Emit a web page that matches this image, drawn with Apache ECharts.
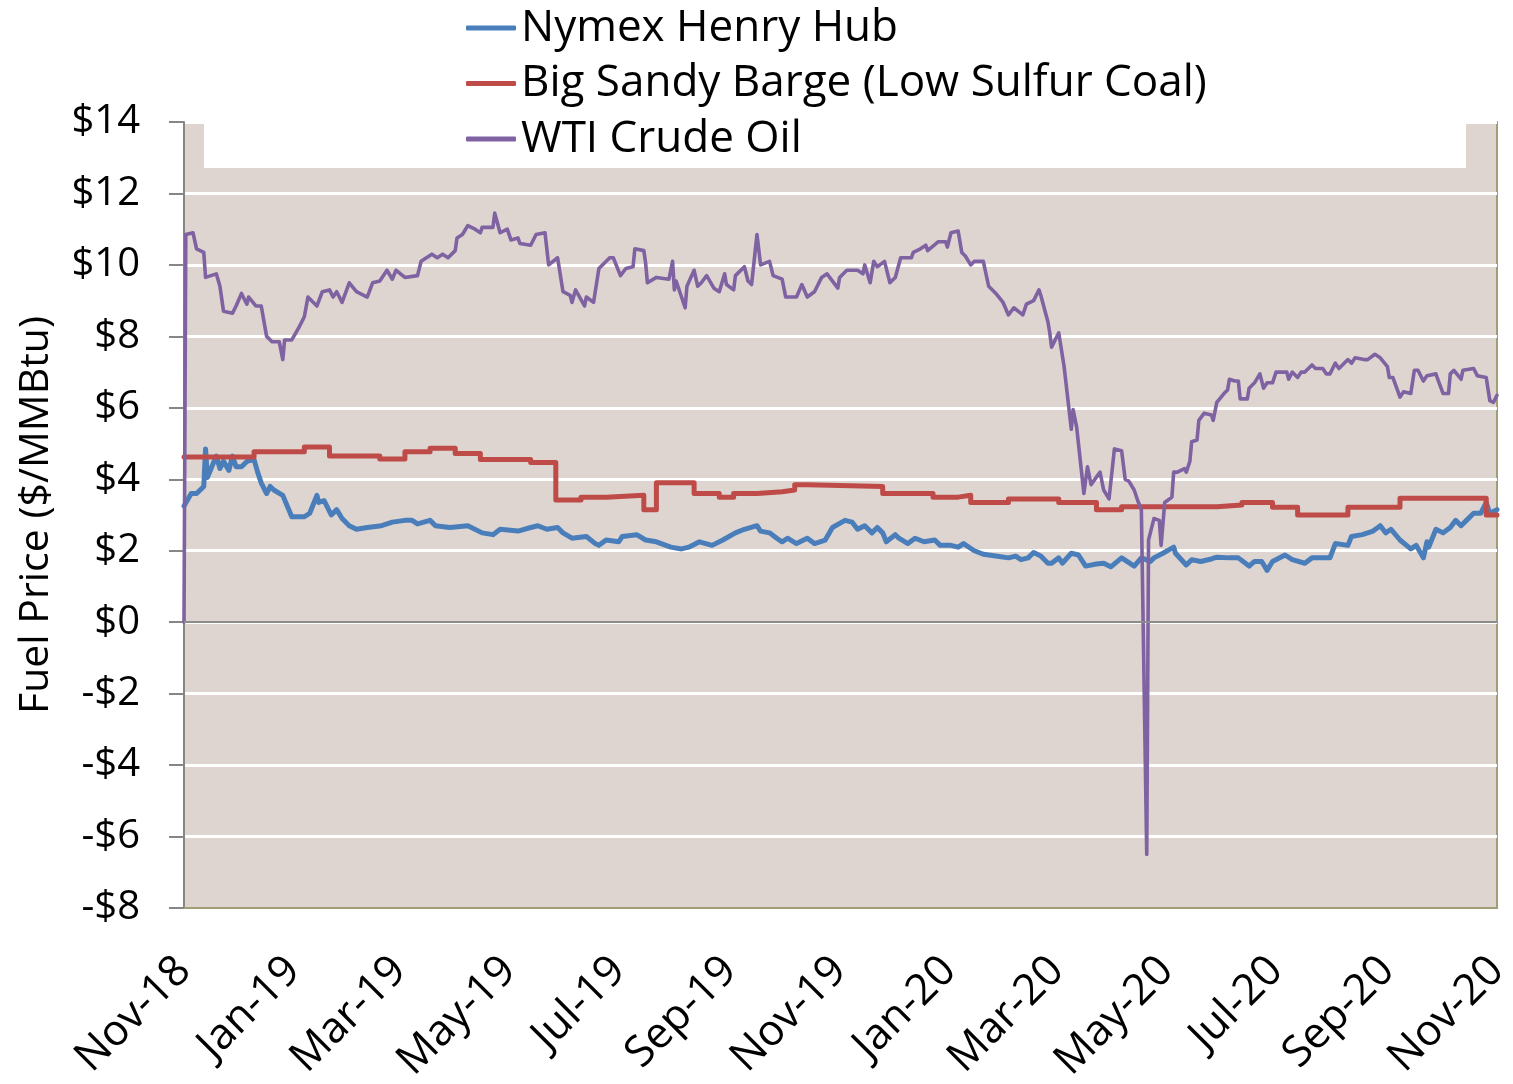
<!DOCTYPE html>
<html>
<head>
<meta charset="utf-8">
<script src="https://cdn.jsdelivr.net/npm/echarts@6/dist/echarts.min.js"></script>
<style>
  html, body { margin: 0; padding: 0; background: #fff; }
  #chart { width: 1513px; height: 1084px; }
</style>
</head>
<body>
<div id="chart"></div>
<script>
(function(){

    var seriesNames = ['Nymex Henry Hub', 'Big Sandy Barge (Low Sulfur Coal)', 'WTI Crude Oil'];
    var colors = ['#4A7EBB', '#BE4B48', '#7F62A1'];
    var monthNames = ['Jan','Feb','Mar','Apr','May','Jun','Jul','Aug','Sep','Oct','Nov','Dec'];
    var tickMonths = ['2018-11','2019-01','2019-03','2019-05','2019-07','2019-09','2019-11',
        '2020-01','2020-03','2020-05','2020-07','2020-09','2020-11'];

    // Nymex Henry Hub ($/MMBtu)
    var hhDates = ['2018-11-01','2018-11-02','2018-11-05','2018-11-08','2018-11-12','2018-11-13','2018-11-14','2018-11-19',
        '2018-11-21','2018-11-23','2018-11-26','2018-11-28','2018-11-30','2018-12-03','2018-12-06','2018-12-10',
        '2018-12-12','2018-12-14','2018-12-17','2018-12-19','2018-12-21','2018-12-26','2018-12-31','2019-01-07',
        '2019-01-10','2019-01-14','2019-01-15','2019-01-18','2019-01-22','2019-01-25','2019-01-28','2019-02-01',
        '2019-02-05','2019-02-11','2019-02-19','2019-02-22','2019-02-25','2019-03-04','2019-03-08','2019-03-11',
        '2019-03-18','2019-03-21','2019-03-29','2019-04-08','2019-04-16','2019-04-22','2019-04-26','2019-05-06',
        '2019-05-13','2019-05-17','2019-05-22','2019-05-28','2019-05-31','2019-06-05','2019-06-13','2019-06-18',
        '2019-06-20','2019-06-24','2019-07-01','2019-07-03','2019-07-11','2019-07-16','2019-07-22','2019-07-30',
        '2019-08-05','2019-08-09','2019-08-15','2019-08-22','2019-08-28','2019-09-04','2019-09-09','2019-09-16',
        '2019-09-18','2019-09-23','2019-09-27','2019-09-30','2019-10-03','2019-10-08','2019-10-14','2019-10-18',
        '2019-10-24','2019-10-28','2019-11-04','2019-11-08','2019-11-11','2019-11-15','2019-11-19','2019-11-22',
        '2019-11-25','2019-11-27','2019-12-02','2019-12-04','2019-12-09','2019-12-13','2019-12-18','2019-12-24',
        '2019-12-27','2020-01-02','2020-01-06','2020-01-09','2020-01-15','2020-01-20','2020-01-27','2020-02-03',
        '2020-02-07','2020-02-10','2020-02-14','2020-02-17','2020-02-21','2020-02-25','2020-02-27','2020-03-02',
        '2020-03-04','2020-03-09','2020-03-13','2020-03-17','2020-03-23','2020-03-27','2020-03-31','2020-04-06',
        '2020-04-09','2020-04-13','2020-04-17','2020-04-22','2020-04-24','2020-04-29','2020-05-05','2020-05-06',
        '2020-05-12','2020-05-15','2020-05-20','2020-05-26','2020-05-29','2020-06-05','2020-06-10','2020-06-16',
        '2020-06-19','2020-06-23','2020-06-26','2020-06-29','2020-07-06','2020-07-10','2020-07-17','2020-07-21',
        '2020-07-31','2020-08-03','2020-08-10','2020-08-12','2020-08-18','2020-08-24','2020-08-28','2020-08-31',
        '2020-09-03','2020-09-08','2020-09-14','2020-09-17','2020-09-21','2020-09-23','2020-09-24','2020-09-28',
        '2020-10-02','2020-10-06','2020-10-09','2020-10-12','2020-10-15','2020-10-19','2020-10-23','2020-10-26',
        '2020-10-28','2020-11-01'];
    var hhValues = [3.25,3.3,3.6,3.6,3.8,4.85,4.05,4.65,
        4.3,4.5,4.25,4.65,4.35,4.35,4.5,4.55,
        4.2,3.9,3.6,3.8,3.7,3.55,2.95,2.95,
        3.05,3.55,3.35,3.4,3.0,3.15,2.9,2.7,
        2.6,2.65,2.7,2.75,2.8,2.85,2.85,2.75,
        2.85,2.7,2.65,2.7,2.5,2.45,2.6,2.55,
        2.65,2.7,2.6,2.65,2.5,2.35,2.4,2.2,
        2.15,2.3,2.25,2.4,2.45,2.3,2.25,2.1,
        2.05,2.1,2.25,2.15,2.3,2.5,2.6,2.7,
        2.55,2.5,2.35,2.25,2.35,2.2,2.35,2.2,
        2.3,2.65,2.85,2.8,2.6,2.7,2.5,2.65,
        2.5,2.25,2.45,2.35,2.2,2.35,2.25,2.3,
        2.15,2.15,2.1,2.2,2.0,1.9,1.85,1.8,
        1.85,1.75,1.8,1.95,1.85,1.65,1.65,1.8,
        1.65,1.93,1.88,1.57,1.63,1.65,1.55,1.8,
        1.7,1.57,1.8,1.7,1.8,1.93,2.1,1.93,
        1.6,1.75,1.7,1.77,1.82,1.8,1.8,1.57,
        1.7,1.7,1.45,1.7,1.88,1.75,1.65,1.8,
        1.8,2.2,2.15,2.4,2.45,2.55,2.7,2.5,
        2.6,2.3,2.05,2.15,1.8,2.25,2.1,2.6,
        2.5,2.65,2.85,2.7,2.85,3.05,3.05,3.35,
        3.05,3.15];

    // Big Sandy Barge, low sulfur coal ($/MMBtu), weekly steps
    var coalDates = ['2018-11-01','2018-12-10','2019-01-07','2019-01-21','2019-02-18','2019-03-04','2019-03-18','2019-04-01',
        '2019-04-15','2019-05-13','2019-05-27','2019-06-10','2019-06-24','2019-07-15','2019-07-22','2019-08-12',
        '2019-08-26','2019-09-03','2019-09-16','2019-09-30','2019-10-07','2019-10-14','2019-11-25','2019-12-23',
        '2020-01-06','2020-01-13','2020-02-03','2020-03-02','2020-03-23','2020-04-06','2020-05-29','2020-06-12',
        '2020-06-29','2020-07-13','2020-08-10','2020-09-08','2020-10-26','2020-11-01'];
    var coalValues = [4.62,4.77,4.9,4.65,4.57,4.77,4.87,4.72,
        4.55,4.47,3.42,3.5,3.55,3.15,3.9,3.6,
        3.5,3.6,3.65,3.7,3.85,3.8,3.6,3.5,
        3.55,3.35,3.45,3.35,3.15,3.23,3.28,3.35,
        3.22,3.0,3.22,3.47,3.0,3.0];

    // WTI crude oil ($/MMBtu)
    var wtiDates = ['2018-11-01','2018-11-02','2018-11-06','2018-11-08','2018-11-12','2018-11-13','2018-11-19','2018-11-21',
        '2018-11-23','2018-11-28','2018-11-30','2018-12-03','2018-12-06','2018-12-07','2018-12-11','2018-12-14',
        '2018-12-17','2018-12-20','2018-12-24','2018-12-26','2018-12-27','2018-12-31','2019-01-04','2019-01-07',
        '2019-01-09','2019-01-14','2019-01-17','2019-01-21','2019-01-23','2019-01-25','2019-01-28','2019-02-01',
        '2019-02-05','2019-02-11','2019-02-14','2019-02-18','2019-02-22','2019-02-25','2019-02-27','2019-03-04',
        '2019-03-11','2019-03-13','2019-03-19','2019-03-22','2019-03-25','2019-03-28','2019-04-01','2019-04-02',
        '2019-04-05','2019-04-08','2019-04-12','2019-04-15','2019-04-16','2019-04-22','2019-04-23','2019-04-26',
        '2019-04-30','2019-05-02','2019-05-06','2019-05-07','2019-05-13','2019-05-16','2019-05-21','2019-05-23',
        '2019-05-28','2019-05-31','2019-06-04','2019-06-05','2019-06-07','2019-06-12','2019-06-13','2019-06-17',
        '2019-06-20','2019-06-26','2019-06-28','2019-07-02','2019-07-05','2019-07-09','2019-07-10','2019-07-15',
        '2019-07-16','2019-07-17','2019-07-22','2019-07-29','2019-07-31','2019-08-01','2019-08-02','2019-08-07',
        '2019-08-08','2019-08-12','2019-08-14','2019-08-16','2019-08-19','2019-08-23','2019-08-26','2019-08-29',
        '2019-08-30','2019-09-03','2019-09-04','2019-09-09','2019-09-11','2019-09-13','2019-09-16','2019-09-18',
        '2019-09-23','2019-09-25','2019-09-30','2019-10-02','2019-10-08','2019-10-11','2019-10-14','2019-10-18',
        '2019-10-22','2019-10-25','2019-10-31','2019-11-01','2019-11-05','2019-11-11','2019-11-14','2019-11-15',
        '2019-11-18','2019-11-20','2019-11-22','2019-11-26','2019-11-29','2019-12-02','2019-12-05','2019-12-11',
        '2019-12-12','2019-12-16','2019-12-19','2019-12-20','2019-12-26','2019-12-30','2019-12-31','2020-01-02',
        '2020-01-06','2020-01-08','2020-01-10','2020-01-13','2020-01-15','2020-01-20','2020-01-23','2020-01-27',
        '2020-01-31','2020-02-03','2020-02-06','2020-02-11','2020-02-13','2020-02-17','2020-02-20','2020-02-21',
        '2020-02-25','2020-02-26','2020-02-27','2020-03-02','2020-03-05','2020-03-09','2020-03-10','2020-03-12',
        '2020-03-13','2020-03-16','2020-03-18','2020-03-20','2020-03-25','2020-03-27','2020-03-30','2020-04-02',
        '2020-04-06','2020-04-08','2020-04-10','2020-04-13','2020-04-15','2020-04-17','2020-04-20','2020-04-21',
        '2020-04-24','2020-04-27','2020-04-28','2020-04-30','2020-05-04','2020-05-05','2020-05-07','2020-05-11',
        '2020-05-12','2020-05-14','2020-05-15','2020-05-18','2020-05-19','2020-05-22','2020-05-26','2020-05-27',
        '2020-05-29','2020-06-02','2020-06-04','2020-06-05','2020-06-08','2020-06-10','2020-06-11','2020-06-15',
        '2020-06-16','2020-06-19','2020-06-22','2020-06-24','2020-06-26','2020-06-29','2020-07-01','2020-07-07',
        '2020-07-08','2020-07-10','2020-07-13','2020-07-15','2020-07-17','2020-07-21','2020-07-23','2020-07-27',
        '2020-07-29','2020-07-31','2020-08-03','2020-08-05','2020-08-10','2020-08-12','2020-08-14','2020-08-19',
        '2020-08-21','2020-08-25','2020-08-28','2020-09-01','2020-09-02','2020-09-04','2020-09-08','2020-09-10',
        '2020-09-14','2020-09-16','2020-09-18','2020-09-21','2020-09-23','2020-09-28','2020-09-29','2020-10-02',
        '2020-10-05','2020-10-06','2020-10-08','2020-10-12','2020-10-13','2020-10-19','2020-10-21','2020-10-26',
        '2020-10-28','2020-10-30','2020-11-01'];
    var wtiValues = [0,10.85,10.9,10.45,10.35,9.65,9.75,9.4,
        8.7,8.65,8.85,9.2,8.9,9.1,8.85,8.85,
        8.0,7.85,7.85,7.35,7.9,7.9,8.25,8.55,
        9.1,8.85,9.25,9.3,9.1,9.25,8.95,9.5,
        9.25,9.1,9.5,9.55,9.85,9.6,9.85,9.65,
        9.7,10.1,10.3,10.2,10.3,10.2,10.4,10.75,
        10.85,11.1,11.0,10.9,11.05,11.05,11.45,10.9,
        11.0,10.7,10.75,10.6,10.55,10.85,10.9,10.0,
        10.2,9.25,9.15,8.95,9.3,8.85,9.1,8.95,
        9.9,10.2,10.2,9.7,9.9,9.95,10.45,10.4,
        10.05,9.5,9.65,9.6,10.1,9.3,9.55,8.8,
        9.4,9.85,9.4,9.5,9.7,9.35,9.25,9.75,
        9.45,9.3,9.7,9.95,9.55,9.45,10.85,10.0,
        10.1,9.7,9.6,9.1,9.1,9.45,9.1,9.25,
        9.65,9.75,9.35,9.65,9.85,9.85,9.75,10.0,
        9.5,10.1,9.95,10.1,9.5,9.65,10.2,10.2,
        10.35,10.45,10.55,10.4,10.65,10.65,10.5,10.9,
        10.95,10.35,10.25,10.0,10.1,10.1,9.4,9.2,
        8.95,8.6,8.8,8.6,8.9,9.0,9.3,9.15,
        8.4,8.1,7.7,8.1,7.15,5.4,5.95,5.45,
        5.45,3.6,4.35,3.85,4.2,3.7,3.45,4.85,
        4.8,4.0,3.95,3.7,3.4,3.15,-6.5,2.3,
        2.9,2.85,2.15,3.35,3.5,4.2,4.2,4.3,
        4.2,4.5,5.05,5.1,5.65,5.85,5.8,5.65,
        6.15,6.4,6.5,6.8,6.75,6.75,6.25,6.25,
        6.55,6.7,6.95,6.55,6.7,6.7,7.0,7.0,
        6.8,7.0,6.85,7.0,7.0,7.2,7.1,7.1,
        6.95,6.95,7.25,7.1,7.35,7.25,7.4,7.35,
        7.35,7.5,7.4,7.15,6.85,6.85,6.3,6.45,
        6.4,7.05,7.05,6.75,6.9,6.95,6.8,6.4,
        6.4,6.95,7.05,6.8,7.05,7.1,6.9,6.85,
        6.2,6.15,6.35];

    function toTime(s){
        var p = s.split('-');
        return new Date(+p[0], +p[1] - 1, p[2] ? +p[2] : 1).getTime();
    }
    function pairs(dates, values){
        return dates.map(function(d, i){ return [toTime(d), values[i]]; });
    }

    var fontFamily = '"Open Sans", "Noto Sans", sans-serif';
    var chart = echarts.init(document.getElementById('chart'));

    var option = {
        animation: false,
        color: colors,
        textStyle: { fontFamily: fontFamily, color: '#000' },
        grid: {
            left: 184, right: 16, top: 122, bottom: 176,
            outerBoundsMode: 'none',
            show: true,
            backgroundColor: '#DED5D0',
            borderColor: '#A19D76',
            borderWidth: 2
        },
        legend: {
            orient: 'vertical',
            left: 466,
            top: 3,
            padding: 0,
            itemGap: 5.5,
            itemWidth: 50,
            itemHeight: 5,
            icon: 'roundRect',
            data: seriesNames,
            textStyle: { fontSize: 44, lineHeight: 50, color: '#000', fontFamily: fontFamily }
        },
        graphic: [{
            type: 'rect',
            z: 1,
            left: 204,
            top: 110,
            shape: { width: 1262, height: 58 },
            style: { fill: '#fff' }
        }],
        xAxis: {
            // dates as timestamps on a value axis, labels only at every second month start
            type: 'value',
            min: toTime('2018-11-01'),
            max: toTime('2020-11-01'),
            axisLine: { show: true, onZero: false, lineStyle: { color: '#A19D76', width: 2 } },
            axisTick: { show: false },
            splitLine: { show: false },
            axisLabel: {
                customValues: tickMonths.map(toTime),
                rotate: 45,
                margin: 56,
                fontSize: 43,
                color: '#000',
                fontFamily: fontFamily,
                formatter: function(val){
                    var d = new Date(val);
                    return monthNames[d.getMonth()] + '-' + String(d.getFullYear()).slice(2);
                }
            }
        },
        yAxis: {
            type: 'value',
            min: -8,
            max: 14,
            interval: 2,
            name: 'Fuel Price ($/MMBtu)',
            nameLocation: 'middle',
            nameRotate: 90,
            nameGap: 127,
            nameTextStyle: { fontSize: 41, color: '#000', fontFamily: fontFamily },
            axisLine: { show: true, lineStyle: { color: '#868686', width: 2 } },
            axisTick: { show: true, length: 15, lineStyle: { color: '#868686', width: 2 } },
            splitLine: { show: true, lineStyle: { color: '#FFFFFF', width: 3 } },
            axisLabel: {
                margin: 44,
                fontSize: 40,
                color: '#000',
                fontFamily: fontFamily,
                formatter: function(v){
                    return (v < 0 ? '-$' : '$') + Math.abs(v);
                }
            }
        },
        series: [
            {
                name: seriesNames[0],
                type: 'line',
                showSymbol: false,
                symbol: 'none',
                data: pairs(hhDates, hhValues),
                lineStyle: { width: 5, cap: 'round', join: 'round' },
                markLine: {
                    silent: true,
                    symbol: 'none',
                    label: { show: false },
                    lineStyle: { color: '#8C8C8C', width: 2, type: 'solid' },
                    data: [{ yAxis: 0 }]
                }
            },
            {
                name: seriesNames[1],
                type: 'line',
                step: 'end',
                showSymbol: false,
                symbol: 'none',
                data: pairs(coalDates, coalValues),
                lineStyle: { width: 5, cap: 'round', join: 'round' }
            },
            {
                name: seriesNames[2],
                type: 'line',
                showSymbol: false,
                symbol: 'none',
                data: pairs(wtiDates, wtiValues),
                lineStyle: { width: 3.6, cap: 'round', join: 'round' }
            }
        ]
    };

    chart.setOption(option);

})();
</script>
</body>
</html>
